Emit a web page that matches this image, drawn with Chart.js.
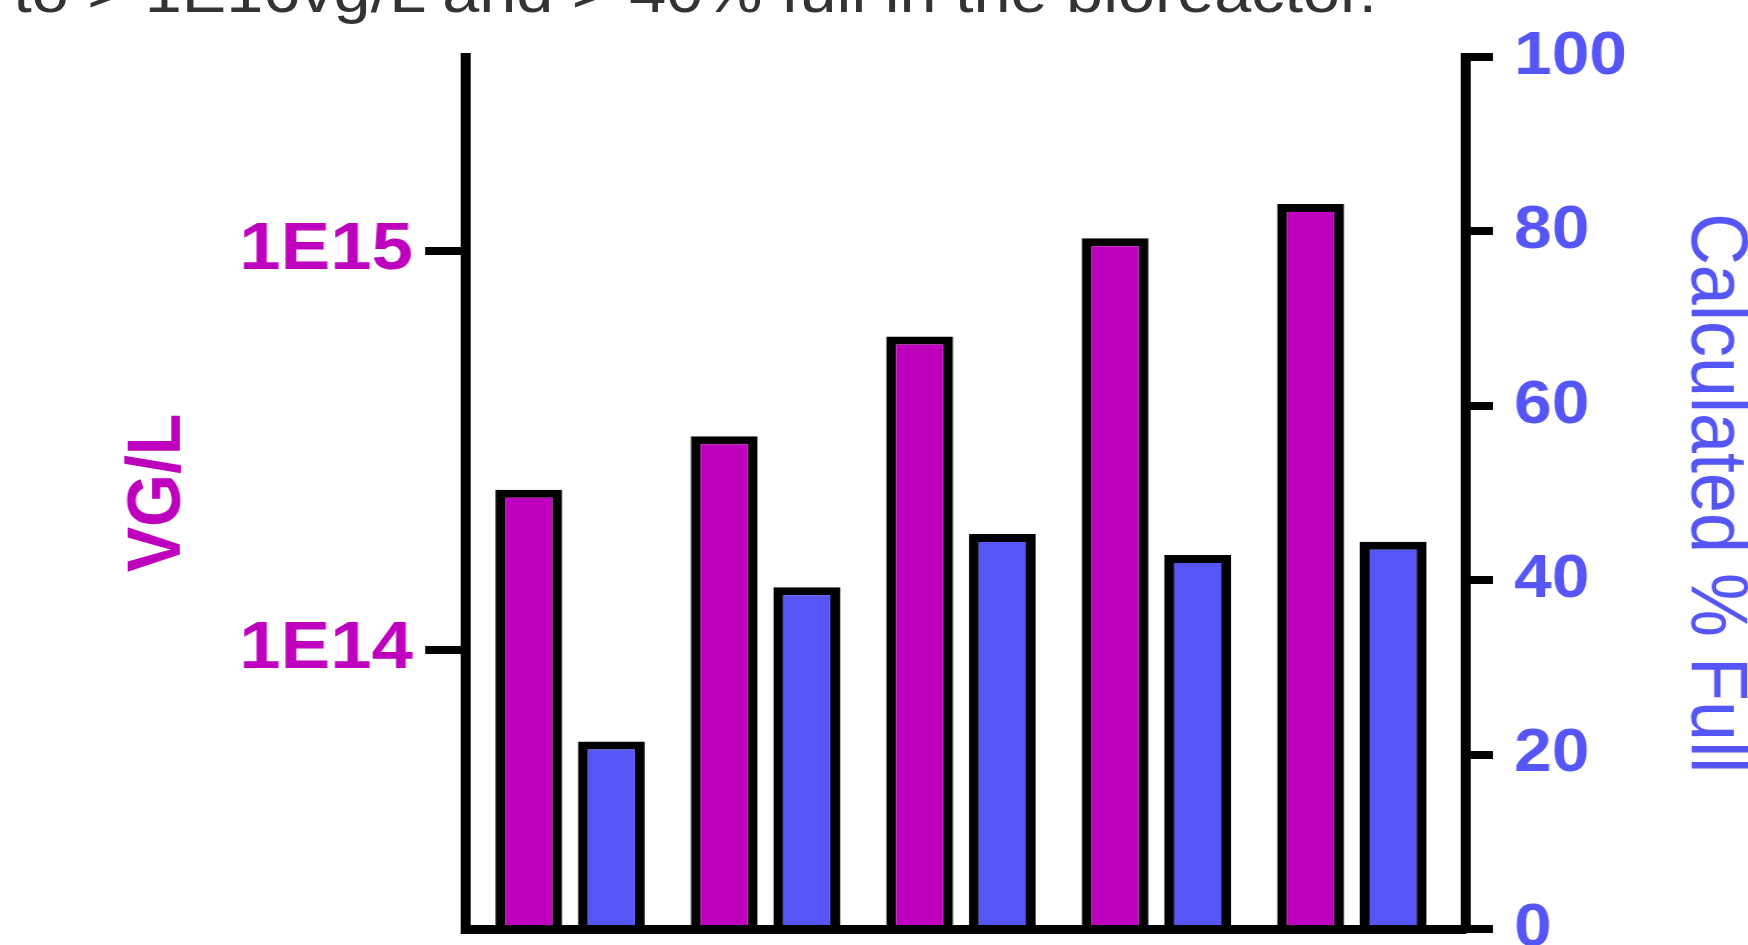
<!DOCTYPE html>
<html>
<head>
<meta charset="utf-8">
<script src="https://cdn.jsdelivr.net/npm/chart.js@4.4.1/dist/chart.umd.min.js"></script>
<style>
    html, body {
        margin: 0;
        padding: 0;
        background: #ffffff;
        overflow: hidden;
        width: 1748px;
        height: 945px;
    }
    /* the source picture is stretched sideways, so the whole chart is too */
    #stage {
        position: relative;
        width: 1575px;
        height: 945px;
        transform: scaleX(1.11);
        transform-origin: 0 0;
    }
    #caption {
        position: absolute;
        left: 12px;
        top: -38px;
        font-family: "Liberation Sans", Arial, sans-serif;
        font-size: 60px;
        line-height: 60px;
        color: #333333;
        white-space: nowrap;
    }
    #chart {
        position: absolute;
        left: 0;
        top: 0;
    }
</style>
</head>
<body>
<div id="stage">
    <div id="caption">to &gt; 1E16vg/L and &gt; 40% full in the bioreactor.</div>
    <canvas id="chart" width="1575" height="997"></canvas>
</div>
<script>
// Data
var categories = ["Sample 1", "Sample 2", "Sample 3", "Sample 4", "Sample 5"];
var vgPerL = [2.52e14, 3.43e14, 6.1e14, 1.075e15, 1.31e15];
var percentFull = [21.5, 39.2, 45.3, 42.9, 44.4];
var leftTicks = [1e14, 1e15];
var rightTicks = [0, 20, 40, 60, 80, 100];

var magenta = "#BE00BE";
var blue = "#5656F7";
var fontFamily = "'Liberation Sans', Arial, sans-serif";

// one x position per category (linear axis so the groups sit like in the picture)
var xPositions = categories.map((c, i) => i);

function points(values) {
    return values.map((v, i) => ({ x: xPositions[i], y: v }));
}

var barStyle = {
    borderColor: "#000000",
    borderWidth: { top: 8, left: 9, right: 9, bottom: 0 },
    borderSkipped: "start",
    categoryPercentage: 0.845,
    barPercentage: 0.81
};

new Chart(document.getElementById("chart"), {
    type: "bar",
    data: {
        datasets: [
            Object.assign({
                label: "VG/L",
                data: points(vgPerL),
                backgroundColor: magenta,
                yAxisID: "y"
            }, barStyle),
            Object.assign({
                label: "Calculated % Full",
                data: points(percentFull),
                backgroundColor: blue,
                yAxisID: "y1"
            }, barStyle)
        ]
    },
    options: {
        responsive: false,
        animation: false,
        devicePixelRatio: 1,
        layout: {
            padding: { left: 0, right: 0, top: 57, bottom: 60 }
        },
        plugins: {
            legend: { display: false },
            tooltip: { enabled: false },
            title: { display: false }
        },
        scales: {
            x: {
                type: "linear",
                offset: false,
                min: -0.537,
                max: 4.58,
                afterBuildTicks: scale => {
                    scale.ticks = xPositions.map(v => ({ value: v }));
                },
                grid: { display: false, offset: false },
                ticks: { display: false },
                border: { display: true, color: "#000000", width: 9, z: 1 }
            },
            y: {
                type: "logarithmic",
                position: "left",
                min: 2e13,
                max: 3.06e15,
                afterBuildTicks: scale => {
                    scale.ticks = leftTicks.map(v => ({ value: v }));
                },
                afterFit: scale => {
                    scale.width = 419;
                },
                grid: {
                    display: true,
                    drawOnChartArea: false,
                    drawTicks: true,
                    tickLength: 36,
                    tickWidth: 8,
                    tickColor: "#000000",
                    lineWidth: 8,
                    color: "#000000"
                },
                border: { display: true, color: "#000000", width: 9, z: 1 },
                ticks: {
                    padding: 11,
                    color: magenta,
                    font: { family: fontFamily, size: 67, weight: "bold" },
                    callback: v => "1E" + Math.round(Math.log10(v))
                },
                title: {
                    display: true,
                    text: "VG/L",
                    color: magenta,
                    font: { family: fontFamily, size: 68, weight: "bold", lineHeight: 1.2 },
                    padding: { top: 102, bottom: 0 }
                }
            },
            y1: {
                type: "linear",
                position: "right",
                min: 0,
                max: 100,
                afterBuildTicks: scale => {
                    scale.ticks = rightTicks.map(v => ({ value: v }));
                },
                afterFit: scale => {
                    scale.width = 255;
                },
                grid: {
                    display: true,
                    drawOnChartArea: false,
                    drawTicks: true,
                    tickLength: 25,
                    tickWidth: 8,
                    tickColor: "#000000",
                    lineWidth: 8,
                    color: "#000000"
                },
                border: { display: true, color: "#000000", width: 9, z: 1 },
                ticks: {
                    padding: 19,
                    color: blue,
                    font: { family: fontFamily, size: 61, weight: "bold" }
                },
                title: {
                    display: true,
                    text: "Calculated % Full",
                    color: blue,
                    font: { family: fontFamily, size: 72, weight: "normal", lineHeight: 0.8 },
                    padding: { top: 2, bottom: 0 }
                }
            }
        }
    }
});
</script>
</body>
</html>
